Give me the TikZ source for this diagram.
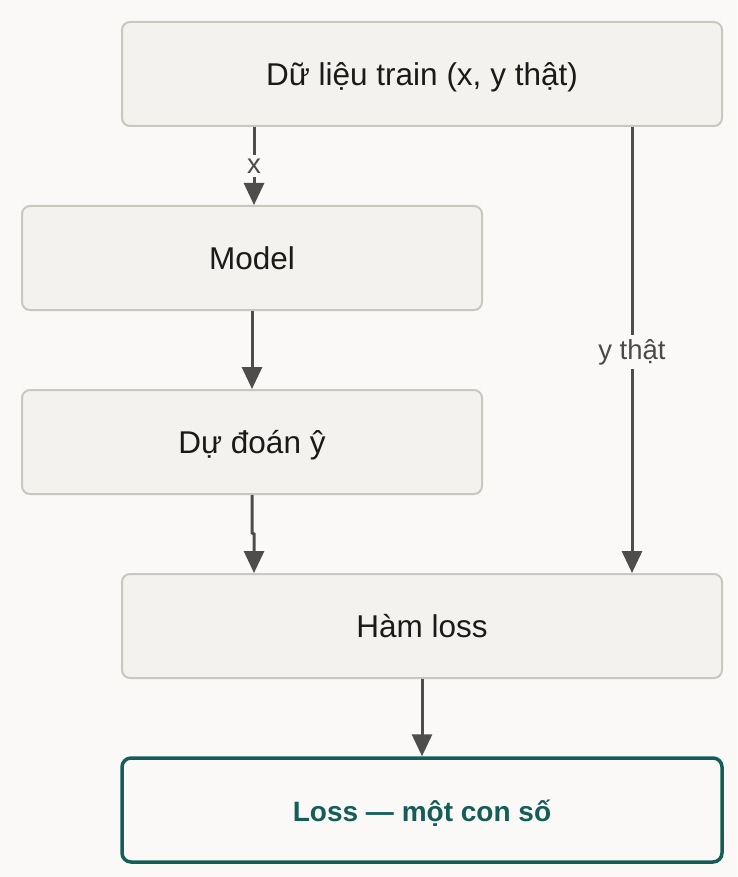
\documentclass[tikz,border=0pt]{standalone}
\usepackage{fontspec}
\setmainfont{Liberation Sans}
\usetikzlibrary{arrows.meta}
\definecolor{pagebg}{HTML}{FAF9F7}
\definecolor{boxfill}{HTML}{F3F2EE}
\definecolor{boxline}{HTML}{C9C7BF}
\definecolor{arrowc}{HTML}{4D4D4B}
\definecolor{tealc}{HTML}{155E58}
\definecolor{textc}{HTML}{1A1A1A}
\definecolor{labelc}{HTML}{4A4A48}
\tikzset{
  stepbox/.style={draw=boxline, line width=2pt, fill=boxfill, rounded corners=8pt,
    minimum height=104pt, text=textc, font=\fontsize{31.5}{36}\selectfont, inner sep=0pt,
    text height=29pt, text depth=6pt},
  resultbox/.style={draw=tealc, line width=3.5pt, fill=pagebg, rounded corners=9pt,
    minimum width=600pt, minimum height=104pt, text=tealc,
    font=\fontsize{28}{32}\selectfont\bfseries, inner sep=0pt,
    text height=29pt, text depth=6pt},
  arr/.style={draw=arrowc, line width=3pt, -{Triangle[length=22pt,width=20pt]}},
  lbl/.style={fill=pagebg, text=labelc, font=\fontsize{27.5}{30}\selectfont, inner sep=4pt}
}
\begin{document}
\begin{tikzpicture}[x=1pt,y=-1pt]
\fill[pagebg] (0,0) rectangle (737,877);
\useasboundingbox (0,0) rectangle (737,877);
\node[stepbox, minimum width=600pt] (data) at (422,74) {Dữ liệu train (x, y thật)};
\node[stepbox, minimum width=460pt] (model) at (252,258) {Model};
\node[stepbox, minimum width=460pt] (pred) at (252,442) {Dự đoán ŷ};
\node[stepbox, minimum width=600pt] (loss) at (422,626) {Hàm loss};
\node[resultbox] (result) at (422,810) {Loss — một con số};
\draw[arr] ([xshift=-168pt]data.south) -- node[lbl]{x} ([xshift=2pt]model.north);
\draw[arr] (model.south) -- (pred.north);
\coordinate (jog) at (252,533);
\draw[arr] (pred.south) -- (jog) -- ++(2,1) -- ([xshift=-168pt]loss.north);
\draw[arr] ([xshift=210pt]data.south) -- node[lbl, pos=0.505]{y thật} ([xshift=210pt]loss.north);
\draw[arr] (loss.south) -- (result.north);
\end{tikzpicture}
\end{document}
